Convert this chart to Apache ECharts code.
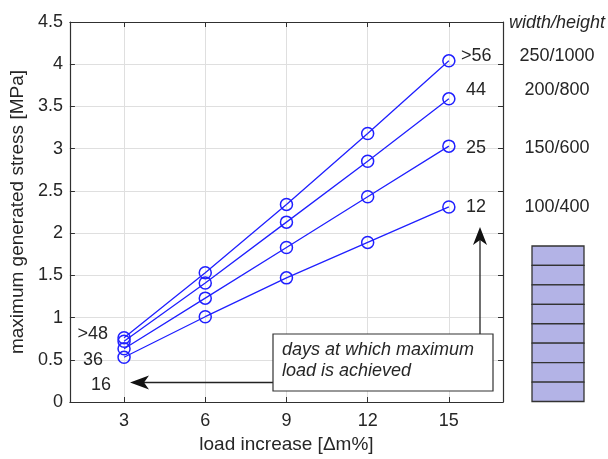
<!DOCTYPE html>
<html>
<head>
<meta charset="utf-8">
<script src="https://cdn.jsdelivr.net/npm/echarts@6/dist/echarts.min.js"></script>
<style>
html,body{margin:0;padding:0;background:#fff;}
#chart{width:608px;height:459px;}
</style>
</head>
<body>
<div id="chart"></div>
<script>
// ---- data ----
const loadIncrease = [3, 6, 9, 12, 15];
const stress250x1000 = [0.76, 1.53, 2.34, 3.18, 4.04];
const stress200x800  = [0.72, 1.41, 2.13, 2.85, 3.59];
const stress150x600  = [0.63, 1.23, 1.83, 2.43, 3.03];
const stress100x400  = [0.53, 1.01, 1.47, 1.89, 2.31];
const xTicks = [3, 6, 9, 12, 15];
const daysAt15 = ['>56', '44', '25', '12'];
const daysAt3 = ['>48', '36', '16'];
const sizeLabels = ['250/1000', '200/800', '150/600', '100/400'];
const sizeHeader = 'width/height';
const xName = 'load increase [\u0394m%]';
const yName = 'maximum generated stress [MPa]';
const noteLines = ['days at which maximum', 'load is achieved'];

const FONT = '"Liberation Sans", Arial, Helvetica, sans-serif';
const TXT = '#262626';
const BLUE = '#2020ff';

const chart = echarts.init(document.getElementById('chart'), null, {renderer: 'canvas'});

function mk(vals) {
  return loadIncrease.map((x, i) => [x, vals[i]]);
}
const allSeries = [stress250x1000, stress200x800, stress150x600, stress100x400];

const series = allSeries.map(v => ({
  type: 'line',
  data: mk(v),
  symbol: 'circle',
  symbolSize: 12,
  showAllSymbol: true,
  lineStyle: {color: BLUE, width: 1.3},
  itemStyle: {color: 'rgba(255,255,255,0)', borderColor: BLUE, borderWidth: 1.5},
  emphasis: {disabled: true},
  animation: false,
  z: 3
}));

const gridLine = {show: true, lineStyle: {color: '#dfdfdf', width: 1}};
const axisLine = {show: true, onZero: false, lineStyle: {color: '#303030', width: 1.2}};

// annotation graphics
const g = [];
const textStyle = (t, x, y, opts = {}) => ({
  type: 'text', x: x, y: y, z: 100,
  style: Object.assign({text: t, font: '18px ' + FONT, fill: TXT, textVerticalAlign: 'middle', textAlign: 'left'}, opts)
});
// right side day labels
const rightDayPos = [[461, 56], [466, 90], [466, 148], [466, 207]];
daysAt15.forEach((t, i) => g.push(textStyle(t, rightDayPos[i][0], rightDayPos[i][1])));
// size labels
const sizePos = [56, 90, 148, 207];
sizeLabels.forEach((t, i) => g.push(textStyle(t, 557, sizePos[i], {textAlign: 'center'})));
g.push(textStyle(sizeHeader, 557, 23, {textAlign: 'center', font: 'italic 18px ' + FONT}));
// left day labels
const leftDayPos = [[108, 334], [103, 360], [111, 385]];
daysAt3.forEach((t, i) => g.push(textStyle(t, leftDayPos[i][0], leftDayPos[i][1], {textAlign: 'right'})));

// left arrow
g.push({type: 'line', z: 90, shape: {x1: 273, y1: 382.5, x2: 142, y2: 382.5}, style: {stroke: '#222', lineWidth: 1.3}});
g.push({type: 'polygon', z: 91, shape: {points: [[130, 382.5], [149, 375.5], [144, 382.5], [149, 389.5]]}, style: {fill: '#111'}});
// up arrow
g.push({type: 'line', z: 90, shape: {x1: 480, y1: 334, x2: 480, y2: 240}, style: {stroke: '#222', lineWidth: 1.3}});
g.push({type: 'polygon', z: 91, shape: {points: [[480, 227], [487, 245], [480, 240], [473, 245]]}, style: {fill: '#111'}});
// note box
g.push({type: 'rect', z: 95, shape: {x: 273, y: 334, width: 220, height: 57}, style: {fill: '#fff', stroke: '#333', lineWidth: 1.2}});
g.push(textStyle(noteLines[0], 282, 349.5, {font: 'italic 18px ' + FONT}));
g.push(textStyle(noteLines[1], 282, 371, {font: 'italic 18px ' + FONT}));
// stacked layers
const layerTop = 246, layerBottom = 401.5, nLayers = 8;
const lh = (layerBottom - layerTop) / nLayers;
for (let i = 0; i < nLayers; i++) {
  g.push({type: 'rect', z: 95, shape: {x: 532, y: layerTop + i * lh, width: 52, height: lh},
    style: {fill: '#b3b3e6', stroke: '#333', lineWidth: 1.3}});
}

const option = {
  backgroundColor: '#fff',
  animation: false,
  grid: {left: 66, right: 105, top: 22, bottom: 57},
  xAxis: [{
    type: 'value', min: 1, max: 17, position: 'bottom',
    name: xName, nameLocation: 'middle', nameGap: 33,
    nameTextStyle: {fontFamily: FONT, fontSize: 19, color: TXT},
    axisLine: axisLine,
    axisTick: {show: true, inside: true, length: 5, customValues: xTicks, lineStyle: {color: '#303030'}},
    axisLabel: {customValues: xTicks, fontFamily: FONT, fontSize: 18, color: TXT, margin: 10},
    splitLine: gridLine
  }, {
    type: 'value', min: 1, max: 17, position: 'top',
    axisLine: axisLine,
    axisTick: {show: true, inside: true, length: 5, customValues: xTicks, lineStyle: {color: '#303030'}},
    axisLabel: {show: false, customValues: xTicks},
    splitLine: {show: false}
  }],
  yAxis: [{
    type: 'value', min: 0, max: 4.5, interval: 0.5, position: 'left',
    name: yName, nameLocation: 'middle', nameGap: 38,
    nameTextStyle: {fontFamily: FONT, fontSize: 19, color: TXT},
    axisLine: axisLine,
    axisTick: {show: true, inside: true, length: 5, lineStyle: {color: '#303030'}},
    axisLabel: {fontFamily: FONT, fontSize: 18, color: TXT, margin: 7},
    splitLine: gridLine
  }, {
    type: 'value', min: 0, max: 4.5, interval: 0.5, position: 'right',
    axisLine: axisLine,
    axisTick: {show: true, inside: true, length: 5, lineStyle: {color: '#303030'}},
    axisLabel: {show: false},
    splitLine: {show: false}
  }],
  series: series,
  graphic: g
};
chart.setOption(option);
</script>
</body>
</html>
